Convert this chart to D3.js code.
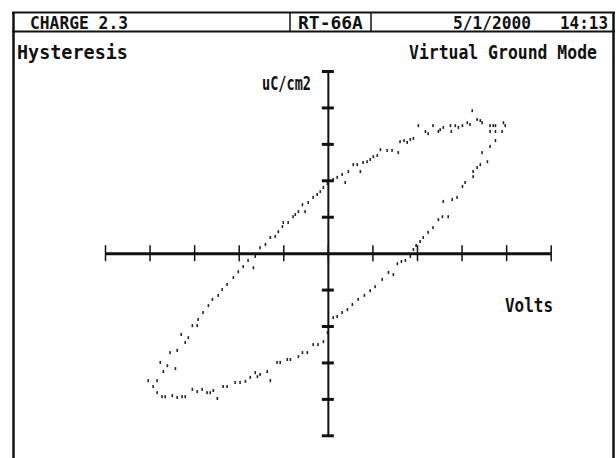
<!DOCTYPE html>
<html>
<head>
<meta charset="utf-8">
<script src="https://cdn.jsdelivr.net/npm/d3@7/dist/d3.min.js"></script>
<style>
  html, body { margin: 0; padding: 0; background: #fff; }
  svg { display: block; }
  text { font-family: "DejaVu Sans Mono", monospace; font-weight: bold; fill: #111; }
</style>
</head>
<body>
<svg id="chart" width="616" height="458"></svg>
<script>
// Axis tick positions (volts and uC/cm2 per division)
const xTicks = [-5, -4, -3, -2, -1, 0, 1, 2, 3, 4, 5];
const yTicks = [-5, -4, -3, -2, -1, 1, 2, 3, 4, 5];

// Header and label texts
const headerTexts = ["CHARGE 2.3", "RT-66A", "5/1/2000", "14:13"];
const titleLeft = "Hysteresis";
const titleRight = "Virtual Ground Mode";
const yLabel = "uC/cm2";
const xLabel = "Volts";

// Hysteresis loop samples: rising branch then falling branch
const volts = [
  -3.83, -3.76, -3.69, -3.60, -3.42, -3.54, -3.38, -3.29, -3.20, -3.13,
  -3.04, -2.93, -2.91, -2.80, -2.68, -2.59, -2.46, -2.37, -2.26, -2.12,
  -2.01, -1.90, -1.79, -1.67, -1.63, -1.52, -1.40, -1.29, -1.18, -1.11,
  -1.02, -1.00, -0.89, -0.78, -0.73, -0.66, -0.57, -0.51, -0.44, -0.33,
  -0.24, -0.17, -0.10, -0.01, 0.12, 0.21, 0.32, 0.39, 0.46, 0.57,
  0.66, 0.73, 0.79, 0.88, 0.95, 1.02, 1.11, 1.18, 1.33, 1.44,
  1.58, 1.62, 1.71, 1.78, 1.85, 1.92, 2.03, 2.19, 2.25, 2.36,
  2.48, 2.52, 2.59, 2.75, 2.77, 2.86, 2.93, 3.02, 3.13, 3.19,
  3.24, 3.35, 3.42, 3.46, 3.64, 3.71, 3.76, 3.94, 3.98,
  3.91, 3.76, 3.64, 3.76, 3.64, 3.46, 3.58, 3.42, 3.35, 3.26,
  3.26, 3.08, 3.02, 2.90, 2.79, 2.59, 2.70, 2.57, 2.48, 2.36,
  2.25, 2.14, 2.07, 1.98, 1.92, 1.85, 1.74, 1.65, 1.56, 1.47,
  1.36, 1.22, 1.06, 0.95, 0.82, 0.68, 0.55, 0.44, 0.32, 0.21,
  0.12, -0.01, -0.10, -0.22, -0.33, -0.46, -0.57, -0.66, -0.84, -0.91,
  -1.07, -1.14, -1.29, -1.36, -1.52, -1.58, -1.63, -1.74, -1.85, -1.97,
  -2.08, -2.26, -2.35, -2.48, -2.57, -2.64, -2.71, -2.82, -2.93, -3.04,
  -3.20, -3.27, -3.38, -3.49, -3.65, -3.72, -3.83, -3.92, -4.03
];
const charge = [
  -3.50, -3.00, -3.25, -3.09, -3.17, -2.73, -2.67, -2.23, -2.45, -2.32,
  -1.99, -1.99, -1.82, -1.63, -1.44, -1.27, -1.16, -1.00, -0.86, -0.67,
  -0.51, -0.37, -0.20, -0.40, -0.09, 0.15, 0.24, 0.43, 0.46, 0.59,
  0.73, 0.84, 0.84, 1.00, 1.06, 1.14, 1.33, 1.14, 1.39, 1.53,
  1.61, 1.69, 1.80, 1.91, 2.02, 2.08, 2.16, 1.94, 2.24, 2.43,
  2.43, 2.24, 2.49, 2.51, 2.57, 2.65, 2.68, 2.84, 2.82, 2.82,
  2.76, 3.06, 3.09, 3.04, 3.12, 3.15, 3.50, 3.34, 3.28, 3.50,
  3.34, 3.39, 3.45, 3.50, 3.34, 3.50, 3.45, 3.50, 3.58, 3.53,
  3.91, 3.67, 3.64, 3.58, 3.50, 3.50, 3.50, 3.58, 3.50,
  3.34, 3.34, 3.34, 3.09, 2.93, 2.76, 2.51, 2.43, 2.35, 2.24,
  2.10, 1.94, 1.83, 1.53, 1.47, 1.42, 1.00, 1.00, 0.92, 0.70,
  0.57, 0.43, 0.32, 0.21, 0.10, -0.09, -0.20, -0.23, -0.29, -0.59,
  -0.53, -0.72, -0.92, -1.03, -1.16, -1.27, -1.41, -1.55, -1.63, -1.74,
  -1.77, -2.18, -2.43, -2.51, -2.51, -2.73, -2.73, -2.84, -2.92, -2.92,
  -3.00, -3.00, -3.50, -3.25, -3.33, -3.39, -3.28, -3.41, -3.52, -3.55,
  -3.55, -3.66, -3.66, -3.99, -3.77, -3.83, -3.83, -3.74, -3.80, -3.74,
  -3.94, -3.94, -3.96, -3.91, -3.94, -3.94, -3.83, -3.66, -3.50
];

const svg = d3.select("#chart");

// Places a horizontally condensed label so it spans the given width
function condensedText(str, left, baseline, size, width) {
  const t = svg.append("text")
    .attr("font-size", size)
    .text(str);
  const natural = t.node().getComputedTextLength();
  const sx = width / natural;
  t.attr("transform", `translate(${left},${baseline}) scale(${sx},1)`);
  return t;
}

// Instrument-style frame with header row
const frame = svg.append("g").attr("stroke", "#111").attr("fill", "none");
frame.append("line").attr("x1", 12).attr("x2", 615).attr("y1", 12.5).attr("y2", 12.5).attr("stroke-width", 2);
frame.append("line").attr("x1", 12).attr("x2", 615).attr("y1", 31.5).attr("y2", 31.5).attr("stroke-width", 2);
frame.append("line").attr("x1", 13.5).attr("x2", 13.5).attr("y1", 12).attr("y2", 458).attr("stroke-width", 2.5);
frame.append("line").attr("x1", 613.5).attr("x2", 613.5).attr("y1", 12).attr("y2", 458).attr("stroke-width", 2.5);
frame.append("line").attr("x1", 290).attr("x2", 290).attr("y1", 12).attr("y2", 31).attr("stroke-width", 1.5);
frame.append("line").attr("x1", 371).attr("x2", 371).attr("y1", 12).attr("y2", 31).attr("stroke-width", 1.5);

// Header texts
const headerPos = [[30, 98], [298, 65], [453, 78], [560, 48]];
headerTexts.forEach((t, i) => condensedText(t, headerPos[i][0], 29, 18, headerPos[i][1]));

condensedText(titleLeft, 17, 58.5, 20, 111);
condensedText(titleRight, 409, 58.5, 20, 188);

// Scales
const x = d3.scaleLinear().domain([-5, 5]).range([105, 550.7]);
const y = d3.scaleLinear().domain([-5, 5]).range([435.3, 71]);

// Horizontal axis (volts) through zero charge
const xAxis = svg.append("g")
  .attr("transform", `translate(0,${y(0)})`)
  .call(d3.axisBottom(x).tickValues(xTicks).tickSize(0).tickFormat(""));
xAxis.select(".domain").attr("stroke", "#111").attr("stroke-width", 3);
xAxis.selectAll(".tick line").attr("y1", -8).attr("y2", 8)
  .attr("stroke", "#111").attr("stroke-width", 1.5);

// Vertical axis (charge) through zero volts
const yAxis = svg.append("g")
  .attr("transform", `translate(${x(0)},0)`)
  .call(d3.axisLeft(y).tickValues(yTicks).tickSize(0).tickFormat(""));
yAxis.select(".domain").attr("stroke", "#111").attr("stroke-width", 2);
yAxis.selectAll(".tick line").attr("x1", -6).attr("x2", 6)
  .attr("stroke", "#111").attr("stroke-width", 3);

condensedText(yLabel, 262, 89.5, 20, 49);
condensedText(xLabel, 505, 311.5, 20, 48);

// Loop sample dots
const pts = volts.map((v, i) => ({ v, q: charge[i] }));
svg.append("g").selectAll("rect")
  .data(pts)
  .join("rect")
  .attr("x", d => x(d.v) - 0.8)
  .attr("y", d => y(d.q) - 1.5)
  .attr("width", 1.6)
  .attr("height", 3)
  .attr("fill", "#222");
</script>
</body>
</html>
